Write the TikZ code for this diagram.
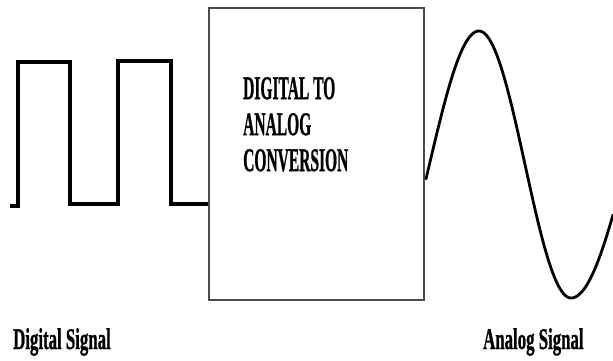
\documentclass[tikz,border=0pt]{standalone}
\usepackage{fontspec}
\setmainfont{Liberation Serif}[BoldFont={Liberation Serif Bold},AutoFakeBold=1.2]
\newfontfamily\heavy{Liberation Serif Bold}[FakeBold=1.2]
\usepackage{graphicx}
\begin{document}
\begin{tikzpicture}[x=1pt,y=-1pt,
  wave/.style={line width=3.6pt,line join=miter,black},
  boxstyle/.style={draw=black!70,line width=1.3pt,minimum width=215pt,minimum height=292pt,inner sep=0pt},
  lbl/.style={font=\fontsize{30}{30}\selectfont\heavy,inner sep=0pt,anchor=base west},
  cnv/.style={font=\fontsize{33}{36}\selectfont\heavy,inner sep=0pt,anchor=north west,align=left}]
\useasboundingbox (0,0) rectangle (613,360);
\node[boxstyle] (conv) at (316.5,154) {};
\node[cnv] (convtext) at (243,77) {\scalebox{0.47}[1]{DIGITAL TO}\\\scalebox{0.47}[1]{ANALOG}\\\scalebox{0.47}[1]{CONVERSION}};
\coordinate (s0) at (10,206);
\draw[wave] (s0) -- (18,206) -- (18,62) -- (70,62) -- (70,204) -- (118,204) -- (118,61) -- (171,61) -- (171,204) -- (conv.west |- 0,204);
\draw[wave,line width=2.8pt,line cap=round]
  plot[variable=\t,domain=0:1,samples=40] ({426+53*\t},{164.5-133.5*cos(90*(53*\t-53)/49.6)})
  -- plot[variable=\t,domain=0:1,samples=60] ({479+92*\t},{164.5-133.5*cos(180*\t)})
  -- plot[variable=\t,domain=0:1,samples=30] ({571+42*\t},{164.5+133.5*cos(90*(42*\t)/55.7)});
\node[lbl] (dlabel) at (13,349) {\scalebox{0.56}[1]{Digital Signal}};
\node[lbl] (alabel) at (483,349) {\scalebox{0.56}[1]{Analog Signal}};
\end{tikzpicture}
\end{document}
